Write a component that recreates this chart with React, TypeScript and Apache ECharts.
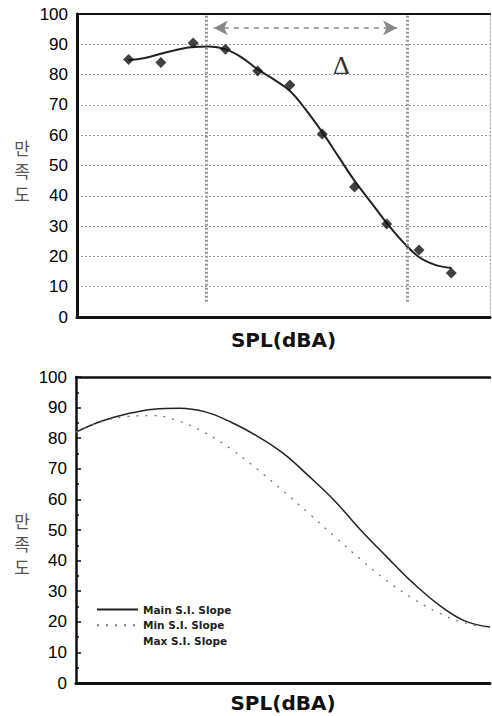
import React, { useEffect, useRef } from "react";
import * as echarts from "echarts";

// ---- Top chart: observed satisfaction vs SPL, with fitted curve ----
const obsSPL = [50, 55, 60, 65, 70, 75, 80, 85, 90, 95, 100];
const obsSat = [85, 84, 90.4, 88.4, 81.2, 76.6, 60.4, 42.9, 30.7, 22.1, 14.5];

const fitSPL = [50, 52.5, 55, 57.5, 60, 62.5, 65, 67.5, 70, 72.5, 75, 77.5, 80, 82.5, 85, 87.5, 90, 92.5, 95, 97.5, 100];
const fitSat = [84.8, 85.5, 86.9, 88.2, 89.1, 89.3, 88.4, 85.7, 81.7, 78.4, 74.6, 68.3, 61, 53, 45, 38, 31, 24.8, 19.8, 17.2, 16.2];

// Delta range markers (SPL)
const deltaLines = [62.1, 93.1];
const deltaArrow = [63.2, 91.6];
const deltaArrowLevel = 95.4;

// ---- Bottom chart: slope curves ----
const mainSPL = [42, 46, 50, 54, 58, 62, 66, 70, 74, 78, 82, 86, 90, 94, 98, 102, 106];
const mainSat = [82, 85.6, 88, 89.5, 89.8, 88.6, 85.2, 80.7, 75.1, 67.6, 59.5, 50, 41.3, 32.9, 25.7, 20.4, 18.3];

const minSPL = [42, 46, 50, 54, 58, 62, 66, 70, 74, 78, 82, 86, 90, 94, 98, 102, 106];
const minSat = [82, 85.4, 87.1, 87.4, 85.5, 81.7, 76.4, 69.9, 62.8, 55.4, 47.8, 40.4, 33.5, 27.7, 23, 19.7, 18.1];

const maxSPL: number[] = [];
const maxSat: number[] = [];

const seriesNames = ["Main S.I. Slope", "Min S.I. Slope", "Max S.I. Slope"];
const yTicks = [0, 10, 20, 30, 40, 50, 60, 70, 80, 90, 100];
const xTitle = "SPL(dBA)";
const yTitle = "만\n족\n도";

const X_MIN = 42;
const X_MAX = 106;

const zip = (a: number[], b: number[]) => a.map((v, i) => [v, b[i]]);

export default function App() {
  const ref = useRef<HTMLDivElement>(null);
  useEffect(() => {
    if (!ref.current) return;
    const chart = echarts.init(ref.current, null, { renderer: "svg" });
    const labelFont = {
      fontFamily: "Liberation Sans, Arial, sans-serif",
      fontSize: 17,
      color: "#000",
    };
    const xName = {
      fontFamily: "DejaVu Sans, sans-serif",
      fontWeight: "bold" as const,
      fontSize: 20,
      color: "#111",
    };
    const yNameStyle = {
      text: yTitle,
      fontFamily: "Noto Sans CJK KR, sans-serif",
      fontSize: 17,
      lineHeight: 23,
      fill: "#555",
      align: "center",
      verticalAlign: "top",
    };
    const clear = "rgba(0,0,0,0)";
    const option: any = {
      animation: false,
      backgroundColor: "#fff",
      grid: [
        { left: 77, top: 14, width: 413, height: 303 },
        { left: 76, top: 377, width: 414, height: 306 },
      ],
      xAxis: [
        {
          gridIndex: 0, type: "value", min: X_MIN, max: X_MAX, position: "bottom",
          axisLine: { onZero: false, lineStyle: { color: "#111", width: 3 } },
          axisTick: { show: false }, axisLabel: { show: false }, splitLine: { show: false },
          name: xTitle, nameLocation: "middle", nameGap: 13, nameTextStyle: xName,
        },
        {
          gridIndex: 0, type: "value", min: X_MIN, max: X_MAX, position: "top",
          axisLine: { onZero: false, lineStyle: { color: "#111", width: 2 } },
          axisTick: { show: false }, axisLabel: { show: false }, splitLine: { show: false },
        },
        {
          gridIndex: 1, type: "value", min: X_MIN, max: X_MAX, position: "bottom",
          axisLine: { onZero: false, lineStyle: { color: "#111", width: 3 } },
          axisTick: { show: false }, axisLabel: { show: false }, splitLine: { show: false },
          name: xTitle, nameLocation: "middle", nameGap: 10, nameTextStyle: xName,
        },
        {
          gridIndex: 1, type: "value", min: X_MIN, max: X_MAX, position: "top",
          axisLine: { onZero: false, lineStyle: { color: "#111", width: 2.5 } },
          axisTick: { show: false }, axisLabel: { show: false }, splitLine: { show: false },
        },
      ],
      yAxis: [
        {
          gridIndex: 0, type: "value", min: yTicks[0], max: yTicks[yTicks.length - 1], interval: 10, position: "left",
          axisLine: { onZero: false, lineStyle: { color: "#111", width: 3 } },
          axisTick: { show: false },
          axisLabel: { ...labelFont, margin: 9 },
          splitLine: { show: true, lineStyle: { color: "#999", type: [2, 2], width: 1 } },
        },
        {
          gridIndex: 0, type: "value", min: 0, max: 100, position: "right",
          axisLine: { onZero: false, lineStyle: { color: "#aaa", width: 1, type: [2, 2] } },
          axisTick: { show: false }, axisLabel: { show: false }, splitLine: { show: false },
        },
        {
          gridIndex: 1, type: "value", min: yTicks[0], max: yTicks[yTicks.length - 1], interval: 10, position: "left",
          axisLine: { onZero: false, lineStyle: { color: "#111", width: 2.5 } },
          axisTick: { show: true, inside: true, length: 5, lineStyle: { color: "#111", width: 1.5 } },
          minorTick: { show: true, splitNumber: 2, length: 3, lineStyle: { color: "#111", width: 1.5 } },
          axisLabel: { ...labelFont, margin: 9 },
          splitLine: { show: false },
        },
      ],
      legend: {
        data: seriesNames,
        orient: "vertical",
        left: 96,
        top: 604,
        itemWidth: 41,
        itemHeight: 14,
        itemGap: 4.5,
        padding: 0,
        itemStyle: { color: clear, borderWidth: 0, opacity: 0 },
        textStyle: {
          fontFamily: "DejaVu Sans, sans-serif",
          fontWeight: "bold",
          fontSize: 10.5,
          color: "#222",
        },
        selectedMode: false,
      },
      graphic: [
        { type: "text", x: 22, y: 136, style: { ...yNameStyle } },
        { type: "text", x: 22, y: 509, style: { ...yNameStyle } },
        {
          type: "text",
          left: 333,
          top: 52,
          style: {
            text: "Δ",
            fontFamily: "Liberation Serif",
            fontWeight: "normal",
            fontSize: 26,
            fill: "#333",
          },
        },
      ],
      series: [
        {
          name: "obs",
          type: "scatter",
          xAxisIndex: 0, yAxisIndex: 0,
          data: zip(obsSPL, obsSat),
          symbol: "diamond",
          symbolSize: 11,
          itemStyle: { color: "#111" },
          z: 5,
        },
        {
          name: "fit",
          type: "line",
          xAxisIndex: 0, yAxisIndex: 0,
          data: zip(fitSPL, fitSat),
          smooth: 0.4,
          symbol: "none",
          lineStyle: { color: "#222", width: 2 },
          z: 4,
        },
        {
          name: "delta-lines",
          type: "line",
          xAxisIndex: 0, yAxisIndex: 0,
          data: [],
          markLine: {
            silent: true,
            symbol: ["none", "none"],
            label: { show: false },
            lineStyle: { color: "#999", type: [2, 2], width: 3 },
            data: deltaLines.map((x) => [{ coord: [x, 5] }, { coord: [x, 100] }]),
          },
        },
        {
          name: "delta-arrow",
          type: "line",
          xAxisIndex: 0, yAxisIndex: 0,
          data: [],
          markLine: {
            silent: true,
            symbol: ["arrow", "arrow"],
            symbolSize: [11, 14],
            label: { show: false },
            lineStyle: { color: "#888", type: [5, 5], width: 1.5 },
            itemStyle: { color: "#888" },
            data: [[{ coord: [deltaArrow[0], deltaArrowLevel] }, { coord: [deltaArrow[1], deltaArrowLevel] }]],
          },
        },
        {
          name: seriesNames[0],
          type: "line",
          xAxisIndex: 2, yAxisIndex: 2,
          data: zip(mainSPL, mainSat),
          smooth: 0.4,
          symbol: "none",
          lineStyle: { color: "#222", width: 1.5 },
          itemStyle: { color: clear, borderWidth: 0 },
        },
        {
          name: seriesNames[1],
          type: "line",
          xAxisIndex: 2, yAxisIndex: 2,
          data: zip(minSPL, minSat),
          smooth: 0.4,
          symbol: "none",
          lineStyle: { color: "#777", width: 1.3, type: [2, 7] },
          itemStyle: { color: clear, borderWidth: 0 },
        },
        {
          name: seriesNames[2],
          type: "line",
          xAxisIndex: 2, yAxisIndex: 2,
          data: zip(maxSPL, maxSat),
          smooth: 0.4,
          symbol: "none",
          lineStyle: { color: clear, width: 1 },
          itemStyle: { color: clear, borderWidth: 0 },
        },
      ],
    };
    chart.setOption(option);
    return () => chart.dispose();
  }, []);
  return (
    <div
      ref={ref}
      style={{ position: "absolute", left: 0, top: 0, width: 492, height: 716, background: "#fff" }}
    />
  );
}
